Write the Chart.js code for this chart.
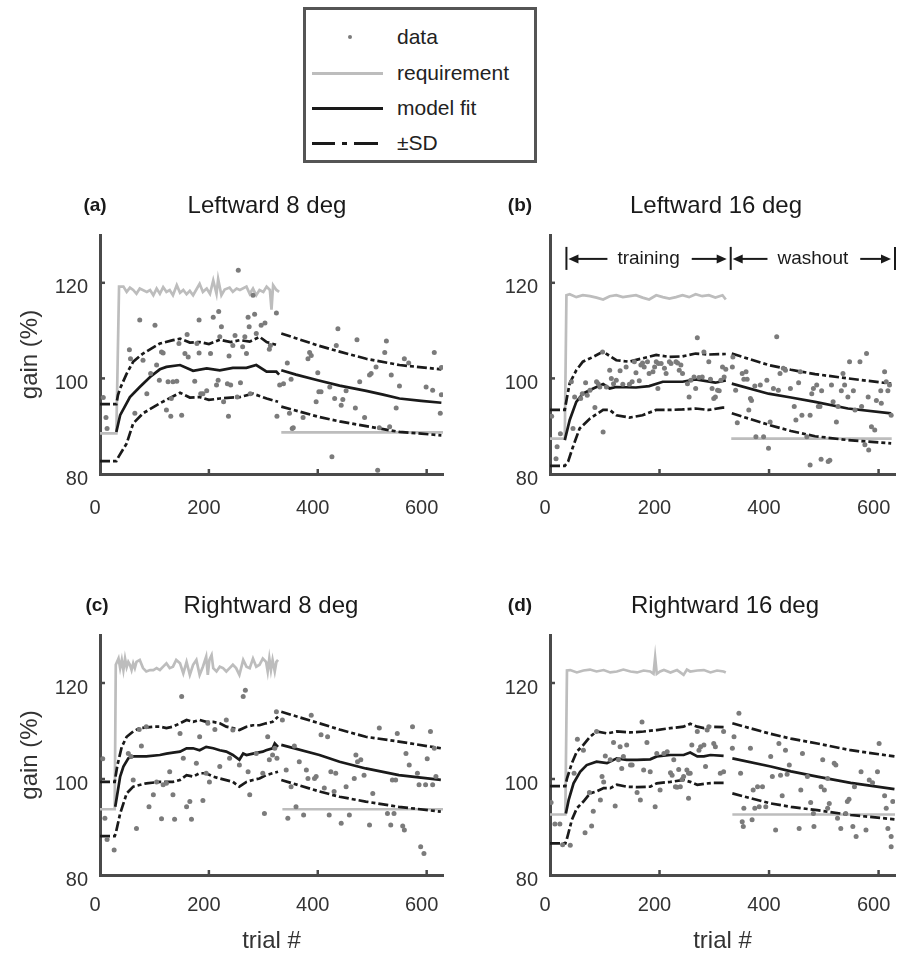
<!DOCTYPE html>
<html>
<head>
<meta charset="utf-8">
<script src="https://cdn.jsdelivr.net/npm/chart.js@4.4.1/dist/chart.umd.min.js"></script>
<style>
  body { margin: 0; background: #fff; font-family: "Liberation Sans", Arial, sans-serif; }
  #fig { position: relative; width: 909px; height: 953px; overflow: hidden; }
  canvas { position: absolute; }
  #legend { position: absolute; left: 303px; top: 7px; width: 234px; height: 156px;
            border: 3px solid #555; box-sizing: border-box; }
  #legend .txt { position: absolute; left: 91px; height: 24px; line-height: 24px;
                 font-size: 21px; color: #222; white-space: nowrap; }
  #legend .ln { position: absolute; height: 3px; }
</style>
</head>
<body>
<div id="fig">
  <div id="legend">
    <div style="position:absolute;left:42px;top:25px;width:4px;height:4px;border-radius:2px;background:#7b7b7b"></div>
    <div class="txt" style="top:15px">data</div>
    <div class="ln" style="left:6px;width:71px;top:62px;background:#bdbdbd"></div>
    <div class="txt" style="top:51px">requirement</div>
    <div class="ln" style="left:6px;width:71px;top:97px;background:#1a1a1a"></div>
    <div class="txt" style="top:86px">model fit</div>
    <div class="ln" style="left:6px;width:23px;top:132px;background:#1a1a1a"></div>
    <div class="ln" style="left:36px;width:5px;top:132px;background:#1a1a1a"></div>
    <div class="ln" style="left:48px;width:24px;top:132px;background:#1a1a1a"></div>
    <div class="txt" style="top:121px">&plusmn;SD</div>
  </div>
  <canvas id="pa" width="450" height="340" style="left:0;top:180px"></canvas>
  <canvas id="pb" width="459" height="340" style="left:450px;top:180px"></canvas>
  <canvas id="pc" width="450" height="373" style="left:0;top:580px"></canvas>
  <canvas id="pd" width="459" height="373" style="left:450px;top:580px"></canvas>
</div>
<script>
// axes
const trialTicks = [0, 200, 400, 600];
const gainTicks = [80, 100, 120];
const trialMax = 630;
const gainMin = 80, gainMax = 130;

const titles = ['Leftward 8 deg', 'Leftward 16 deg', 'Rightward 8 deg', 'Rightward 16 deg'];
const letters = ['(a)', '(b)', '(c)', '(d)'];
const phaseEdges = [30, 330, 630];
const phaseNames = ['training', 'washout'];
const phaseGain = 125;

// ---- (a) leftward 8 deg: [trial, gain %] ----
const dataA = [[6,96.0],[11,91.8],[13,89.5],[54,106.0],[56,104.1],[64,92.7],[73,112.2],[79,103.8],[86,96.8],[93,101.0],
  [101,111.1],[104,102.8],[109,99.6],[113,105.5],[116,105.3],[122,93.4],[125,99.3],[130,92.1],[131,95.8],[134,99.3],
  [141,99.4],[145,107.3],[150,92.3],[156,105.2],[160,109.2],[162,104.5],[174,99.4],[178,107.3],[182,112.2],[182,105.3],
  [185,96.8],[189,96.8],[196,97.4],[203,105.2],[208,112.8],[214,98.6],[217,99.6],[218,114.0],[220,108.7],[223,110.8],
  [227,95.1],[234,98.9],[236,92.1],[237,104.7],[240,98.6],[244,106.9],[248,109.0],[252,96.1],[254,122.6],[258,99.1],
  [262,106.6],[266,108.7],[269,105.2],[272,112.8],[274,110.8],[276,96.8],[281,117.4],[284,113.4],[287,109.4],[296,111.1],
  [303,111.6],[311,106.1],[313,106.9],[324,113.7],[325,92.1],[330,98.6],
  [337,98.9],[344,103.2],[348,92.7],[351,99.8],[353,89.5],[355,89.7],[373,91.8],[382,104.1],[385,105.4],[388,104.8],
  [397,95.1],[400,101.2],[402,97.2],[406,97.2],[422,98.2],[426,83.6],[431,95.8],[434,106.9],[437,110.4],[443,94.4],
  [446,95.6],[452,97.4],[469,93.8],[472,108.1],[477,99.3],[486,91.8],[495,100.7],[498,101.0],[507,102.4],[510,80.8],
  [513,89.7],[523,105.4],[526,107.8],[532,89.9],[535,100.7],[544,93.8],[550,98.4],[559,104.1],[567,103.2],[599,98.2],
  [611,97.5],[614,105.4],[625,92.7],[627,96.6],[627,102.3]];
const reqA = [[0,88.5],[30,88.5],[35,119.2],[43,119.2],[49,118.1],[55,119.0],[61,118.5],[67,117.7],[73,118.8],[86,118.1],
  [92,118.5],[98,117.4],[104,118.8],[110,117.7],[116,119.1],[122,118.1],[128,118.5],[134,117.4],[141,119.5],[147,117.9],
  [153,118.5],[159,117.6],[165,118.3],[171,117.4],[177,118.6],[183,119.8],[189,118.1],[196,118.8],[202,117.7],[208,120.5],
  [214,117.7],[217,120.8],[223,117.4],[229,118.6],[238,119.0],[244,118.1],[251,118.8],[257,118.5],[269,119.2],[275,117.7],
  [281,118.8],[287,117.4],[293,118.5],[300,118.1],[306,119.2],[312,118.5],[315,114.4],[318,119.5],[324,118.5],[329,118.1],
  [331,null],[333,88.7],[630,88.7]];
const fitA = [[30,88.8],[37,92.3],[55,96.1],[73,98.2],[92,100.3],[110,101.9],[122,102.4],[147,102.8],[171,101.6],[196,102.1],
  [220,101.7],[244,102.2],[269,102.2],[287,102.8],[306,101.4],[324,101.4],[329,100.8],
  [331,null],[333,101.7],[360,100.8],[400,99.6],[440,98.5],[489,97.4],[520,96.6],[550,95.8],[590,95.3],[627,94.9]];
const upA = [[0,94.6],[30,94.6],[33,96.5],[37,97.9],[49,101.0],[61,103.5],[79,105.2],[110,107.3],[134,108.0],[147,108.3],
  [165,107.5],[183,107.6],[200,107.2],[220,108.1],[240,107.6],[257,108.0],[275,107.7],[293,108.7],[306,107.6],[327,106.9],
  [331,null],[333,109.4],[400,106.9],[440,105.6],[489,104.1],[550,102.8],[627,101.9]];
const loA = [[0,82.7],[30,82.7],[34,83.6],[49,86.4],[61,90.6],[79,92.7],[110,94.8],[147,97.0],[165,96.0],[183,96.1],
  [200,95.5],[220,95.8],[257,96.1],[281,96.8],[306,95.8],[327,95.1],
  [331,null],[333,94.1],[400,92.0],[440,91.0],[489,90.0],[550,88.8],[627,88.1]];

// ---- (b) leftward 16 deg ----
const dataB = [[3,92.1],[11,83.2],[13,85.7],[19,88.4],
  [39,99.3],[42,89.5],[45,96.1],[56,95.8],[59,96.8],[65,99.1],[68,96.5],[73,97.5],[82,93.9],[85,99.3],[88,98.9],[91,98.2],
  [96,105.5],[97,88.8],[103,98.2],[109,101.7],[112,100.0],[116,98.9],[121,99.6],[128,101.6],[133,98.8],[139,102.4],
  [145,98.8],[150,99.3],[154,103.5],[157,101.2],[163,99.5],[166,102.8],[169,103.2],[172,102.4],[178,103.5],[181,101.0],
  [188,101.4],[191,102.4],[194,103.5],[197,97.9],[198,103.1],[203,103.1],[209,102.1],[212,101.0],[218,103.5],[221,103.1],
  [230,103.5],[233,103.2],[236,101.7],[239,102.8],[242,101.0],[251,98.9],[254,96.1],[257,99.6],[263,100.3],[266,97.9],
  [269,108.5],[272,100.2],[278,100.3],[281,105.5],[290,103.5],[293,99.8],[296,97.9],[299,95.8],[302,96.1],[306,97.5],
  [309,97.4],[312,99.6],[315,102.4],[318,100.3],[321,101.9],
  [333,102.4],[334,104.5],[339,97.5],[342,90.7],[351,101.0],[354,99.8],[358,101.4],[360,99.8],[363,93.4],[366,95.8],
  [368,95.4],[374,98.4],[376,87.8],[384,98.6],[390,87.8],[396,99.6],[399,85.4],[402,90.9],[408,97.9],[414,108.7],
  [417,97.5],[420,101.0],[426,102.1],[430,101.7],[439,97.9],[446,94.1],[449,91.3],[454,99.1],[457,101.4],[460,92.3],
  [469,87.8],[475,81.9],[475,92.3],[478,96.8],[481,97.9],[487,98.6],[490,94.1],[493,94.1],[495,83.1],[496,97.4],
  [508,82.6],[511,82.9],[514,98.6],[517,95.1],[523,90.9],[526,94.1],[532,97.4],[535,101.0],[538,98.6],[544,96.1],
  [547,103.5],[554,97.4],[557,93.4],[566,103.5],[569,94.1],[575,86.1],[578,105.2],[581,96.1],[582,85.0],[587,89.9],
  [593,89.2],[596,95.4],[604,97.4],[605,94.8],[611,101.4],[614,99.3],[617,97.4],[620,98.6],[623,92.3]];
const reqB = [[0,87.4],[27,87.4],[30,117.4],[36,117.6],[48,117.0],[60,117.4],[73,117.2],[85,116.9],[97,116.5],[109,117.2],
  [121,117.4],[133,117.0],[145,117.2],[157,117.4],[169,116.9],[181,116.5],[194,117.4],[206,117.0],[218,116.7],[230,117.0],
  [242,117.4],[254,117.0],[266,117.6],[278,117.2],[290,117.4],[302,116.9],[315,117.4],[321,116.5],
  [326,null],[331,87.4],[624,87.4]];
const fitB = [[27,87.1],[36,91.3],[48,95.1],[60,96.8],[79,97.9],[97,98.8],[109,97.9],[121,98.2],[157,98.1],[181,98.4],
  [206,99.3],[242,99.3],[266,99.8],[302,99.1],[321,99.6],
  [326,null],[332,98.9],[399,96.8],[440,96.0],[484,95.1],[544,93.7],[623,92.7]];
const upB = [[0,93.4],[27,93.4],[31,96.0],[36,99.0],[48,101.7],[60,103.5],[79,104.5],[97,105.6],[121,103.8],[145,103.5],
  [169,104.2],[194,104.9],[218,104.5],[242,104.6],[266,105.2],[290,105.0],[321,105.1],
  [326,null],[332,105.2],[399,102.8],[440,101.8],[484,100.9],[544,100.0],[623,98.9]];
const loB = [[0,81.7],[27,81.7],[33,82.6],[42,85.7],[54,89.5],[73,91.6],[97,93.4],[109,93.4],[121,92.3],[145,91.8],
  [169,92.3],[194,93.4],[218,93.4],[242,93.5],[266,93.7],[290,93.4],[315,93.9],[321,93.9],
  [326,null],[332,92.7],[399,90.3],[440,89.0],[484,87.9],[544,87.1],[623,86.4]];

// ---- (c) rightward 8 deg ----
const dataC = [[5,104.2],[9,91.8],[13,87.4],[26,85.2],
  [52,105.3],[57,104.7],[61,99.8],[67,89.7],[72,110.3],[76,106.9],[85,110.9],[90,94.2],[98,96.7],[104,99.4],
  [113,91.7],[116,98.8],[122,99.1],[128,101.5],[134,96.7],[137,91.6],[147,109.5],[150,117.2],[153,104.3],[159,94.2],
  [165,95.3],[168,91.6],[177,103.3],[183,108.8],[189,95.5],[195,101.2],[198,111.6],[201,99.4],[211,110.3],[220,102.6],
  [232,112.3],[238,104.3],[244,110.2],[256,102.9],[263,117.2],[267,118.5],[272,101.5],[275,96.7],[287,105.3],[299,101.2],
  [302,92.8],[308,108.8],[311,104.0],[317,105.0],[321,106.4],[324,114.0],[325,104.3],
  [335,112.3],[342,101.9],[345,91.8],[351,98.4],[357,106.9],[360,94.2],[366,103.6],[374,92.5],[379,101.9],[382,100.1],
  [388,113.3],[394,100.1],[397,100.5],[406,109.2],[412,98.1],[418,108.8],[421,92.5],[424,101.5],[430,97.4],[433,101.2],
  [443,90.8],[452,98.4],[458,92.5],[467,100.1],[470,105.0],[473,103.6],[479,104.0],[485,100.8],[495,90.4],[501,97.0],
  [513,110.6],[528,92.8],[534,90.4],[537,99.8],[540,92.8],[543,99.8],[546,109.5],[556,90.2],[559,89.4],[562,105.3],
  [568,102.9],[574,110.9],[583,101.2],[586,98.8],[589,85.9],[595,84.5],[598,98.8],[601,104.2],[607,109.9],[611,98.8],
  [614,106.4],[617,100.5]];
const reqC = [[0,93.7],[27,93.7],[29,123.8],[34,125.1],[37,123.1],[40,124.8],[43,122.7],[46,125.1],[49,123.3],[52,124.4],
  [55,123.8],[58,122.7],[61,124.1],[64,123.1],[67,124.4],[73,124.8],[79,123.1],[85,122.4],[92,122.7],[98,122.7],
  [104,123.1],[110,122.7],[116,123.4],[122,124.1],[128,123.1],[134,123.4],[140,124.8],[147,124.1],[153,122.0],[159,124.4],
  [165,121.7],[171,123.8],[177,124.8],[183,121.7],[189,123.4],[195,125.5],[198,121.7],[201,124.8],[205,125.8],[208,123.1],
  [214,122.4],[220,123.4],[226,123.1],[232,122.4],[238,123.1],[244,123.8],[250,123.1],[256,121.7],[263,124.8],[269,123.4],
  [275,123.1],[281,125.1],[287,123.4],[293,123.8],[299,125.1],[305,124.4],[308,122.4],[311,125.1],[314,122.7],[317,124.8],
  [321,122.4],[324,124.4],[327,124.8],
  [331,null],[335,93.7],[630,93.7]];
const fitC = [[28,94.2],[34,98.4],[37,100.5],[43,102.6],[52,104.3],[61,104.7],[85,104.7],[110,105.0],[122,105.3],[134,105.5],
  [147,105.7],[159,106.4],[171,106.4],[183,106.0],[195,106.7],[208,106.4],[220,106.0],[232,105.7],[244,105.0],[256,104.0],
  [263,105.3],[269,105.0],[281,105.3],[299,105.7],[305,106.0],[317,106.4],[321,107.4],[327,106.7],
  [330,null],[333,107.1],[403,105.0],[440,103.6],[488,102.2],[549,100.8],[626,99.8]];
const upC = [[0,99.4],[27,99.4],[32,102.9],[40,106.7],[49,108.8],[61,109.9],[73,110.6],[98,110.9],[110,110.9],[122,110.6],
  [134,110.9],[147,111.6],[159,112.3],[171,111.9],[183,112.3],[195,111.9],[208,111.9],[220,111.6],[232,110.9],[244,110.6],
  [256,110.2],[269,110.9],[281,111.2],[293,111.2],[305,111.6],[317,111.9],[327,113.0],
  [330,null],[333,114.0],[403,111.6],[440,110.3],[488,108.8],[549,107.8],[626,106.4]];
const loC = [[0,88.1],[27,88.1],[29,88.7],[37,92.8],[49,97.0],[61,98.4],[85,99.1],[110,99.4],[134,99.4],[147,99.8],
  [159,100.8],[171,100.5],[183,101.2],[195,101.2],[208,100.5],[220,100.1],[244,99.4],[256,98.4],[269,99.4],[281,99.8],
  [293,100.1],[305,100.8],[317,101.2],[327,101.5],
  [330,null],[333,99.8],[403,97.4],[440,96.3],[488,95.3],[549,94.2],[626,93.2]];

// ---- (d) rightward 16 deg ----
const dataD = [[2,95.1],[9,90.6],[18,90.6],[23,86.3],[37,86.2],
  [44,101.2],[50,108.3],[61,106.0],[64,88.8],[72,97.2],[76,90.2],[79,93.3],[85,109.9],[92,95.6],[95,100.5],[98,99.4],
  [101,104.8],[110,104.0],[116,107.6],[119,94.4],[125,104.0],[128,106.7],[131,102.2],[134,104.7],[140,107.1],[147,102.9],
  [150,102.9],[159,97.2],[165,95.6],[168,111.9],[171,101.9],[177,107.6],[183,101.5],[192,94.2],[195,105.3],[201,97.7],
  [208,105.3],[214,105.7],[220,101.3],[223,100.8],[226,104.0],[229,98.4],[232,98.3],[235,102.0],[238,98.4],[241,99.9],
  [244,100.5],[250,101.9],[253,101.2],[253,96.0],[256,101.2],[259,107.1],[269,109.9],[272,106.0],[275,106.7],[281,107.1],
  [284,102.6],[287,110.2],[290,110.9],[299,107.4],[302,106.7],[311,101.2],[317,101.5],[317,109.9],
  [333,106.4],[336,108.8],[345,113.7],[348,101.2],[351,91.1],[353,90.1],[354,93.9],[366,106.4],[369,91.5],[371,97.7],
  [374,93.9],[379,98.4],[382,94.2],[388,98.4],[394,94.2],[403,104.7],[406,100.5],[412,89.4],[418,107.4],[421,100.8],
  [424,96.5],[430,106.0],[433,101.0],[437,102.9],[455,89.7],[458,97.7],[461,105.3],[470,100.5],[476,95.1],[481,92.8],
  [482,90.1],[495,98.4],[498,104.0],[501,97.7],[507,100.1],[507,93.9],[510,94.9],[519,103.3],[522,102.9],[525,91.8],
  [531,89.7],[540,92.8],[543,95.3],[546,95.8],[553,90.1],[556,98.4],[559,88.0],[568,101.5],[577,89.4],[583,99.8],
  [589,99.2],[598,101.5],[601,107.4],[611,96.5],[614,93.9],[617,89.7],[623,88.0],[623,85.9],[626,95.3]];
const reqD = [[0,92.6],[28,92.6],[31,122.6],[37,122.7],[49,122.2],[61,122.6],[73,122.8],[85,122.4],[98,122.7],[110,122.2],
  [122,122.4],[134,122.8],[147,122.4],[159,122.2],[171,122.6],[183,122.4],[189,121.9],[192,125.3],[195,121.9],[201,122.4],
  [208,122.7],[220,122.2],[232,122.7],[244,121.7],[250,122.8],[256,122.4],[269,122.6],[281,122.7],[293,122.2],[305,122.6],
  [317,122.4],[321,122.2],
  [327,null],[333,92.6],[632,92.6]];
const fitD = [[29,92.8],[34,95.6],[43,99.1],[55,101.5],[67,102.9],[85,103.6],[104,103.3],[122,104.3],[140,104.0],[159,104.0],
  [183,104.1],[195,104.7],[220,105.0],[244,105.0],[256,105.5],[269,104.7],[281,104.7],[293,105.0],[317,104.8],
  [327,null],[333,104.3],[403,102.6],[440,101.6],[488,100.5],[549,99.2],[629,97.9]];
const upD = [[0,98.5],[28,98.5],[31,100.1],[40,103.3],[49,105.7],[61,107.1],[73,108.8],[85,109.9],[104,109.5],[122,109.9],
  [147,109.7],[171,109.9],[195,110.2],[220,110.6],[244,110.9],[256,111.5],[269,110.9],[281,110.6],[293,110.9],[317,110.8],
  [327,null],[333,111.6],[403,109.4],[440,108.4],[488,107.4],[549,106.0],[629,104.7]];
const loD = [[0,86.6],[28,86.6],[31,87.6],[40,91.5],[49,93.9],[61,95.3],[73,97.0],[85,97.4],[98,98.1],[110,98.1],
  [122,98.8],[140,98.4],[159,98.3],[183,98.4],[195,99.1],[220,99.4],[244,99.8],[256,99.4],[269,98.8],[281,99.0],
  [299,99.2],[317,99.2],
  [327,null],[333,97.0],[403,94.9],[440,94.2],[488,93.5],[549,92.5],[629,91.6]];

const DOT = '#7b7b7b', REQ = '#bdbdbd', INK = '#1a1a1a', AXIS = '#4a4a4a', TXT = '#333';
const FONT = '"Liberation Sans", Arial, sans-serif';
const SD_DASH = [10, 3, 4, 3];

const xy = arr => arr.map(([x, y]) => ({x: x, y: y}));

function lineSet(arr, color, dash) {
    return {
        data: xy(arr),
        showLine: true,
        borderColor: color,
        borderWidth: 2.7,
        borderDash: dash || [],
        pointRadius: 0,
        pointHoverRadius: 0,
        tension: 0,
    };
}

// panel letter + title above the plot
const panelText = {
    id: 'panelText',
    afterDraw(chart, args, opts) {
        const ctx = chart.ctx;
        ctx.save();
        ctx.fillStyle = '#1a1a1a';
        ctx.textAlign = 'center';
        ctx.textBaseline = 'alphabetic';
        ctx.font = 'bold 19px ' + FONT;
        ctx.fillText(opts.letter, opts.letterX, 31);
        ctx.font = '24px ' + FONT;
        ctx.fillText(opts.title, opts.titleX, 33);
        ctx.restore();
    }
};

// small inward tick marks, like the original axes
const tickMarks = {
    id: 'tickMarks',
    afterDraw(chart) {
        const {ctx, chartArea: a, scales: {x, y}} = chart;
        ctx.save();
        ctx.strokeStyle = AXIS;
        ctx.lineWidth = 2.5;
        x.ticks.forEach(t => {
            if (t.value === 0) return;
            const px = x.getPixelForValue(t.value);
            ctx.beginPath(); ctx.moveTo(px, a.bottom); ctx.lineTo(px, a.bottom - 5); ctx.stroke();
        });
        y.ticks.forEach(t => {
            if (t.value === gainMin) return;
            const py = y.getPixelForValue(t.value);
            ctx.beginPath(); ctx.moveTo(a.left, py); ctx.lineTo(a.left + 5, py); ctx.stroke();
        });
        ctx.restore();
    }
};

function arrow(ctx, from, to, y) {
    const dir = Math.sign(to - from);
    ctx.beginPath(); ctx.moveTo(from, y); ctx.lineTo(to - dir * 8, y); ctx.stroke();
    ctx.beginPath();
    ctx.moveTo(to, y);
    ctx.lineTo(to - dir * 10, y - 4.5);
    ctx.lineTo(to - dir * 10, y + 4.5);
    ctx.closePath();
    ctx.fill();
}

// |<- training ->|<- washout ->| marks in panel (b)
const phaseMarks = {
    id: 'phaseMarks',
    afterDraw(chart, args, opts) {
        if (!opts.show) return;
        const {ctx, scales: {x, y}} = chart;
        const py = y.getPixelForValue(phaseGain);
        const xs = phaseEdges.map(v => x.getPixelForValue(v));
        ctx.save();
        ctx.strokeStyle = INK;
        ctx.fillStyle = INK;
        ctx.lineWidth = 2;
        xs.forEach(px => {
            ctx.beginPath(); ctx.moveTo(px, py - 12); ctx.lineTo(px, py + 11); ctx.stroke();
        });
        ctx.font = '19px ' + FONT;
        ctx.textAlign = 'center';
        ctx.textBaseline = 'middle';
        phaseNames.forEach((name, i) => {
            const a = xs[i], b = xs[i + 1], mid = (a + b) / 2;
            const half = ctx.measureText(name).width / 2;
            arrow(ctx, mid - half - 10, a + 2, py);
            arrow(ctx, mid + half + 12, b - 4, py);
            ctx.fillText(name, mid, py);
        });
        ctx.restore();
    }
};

const panels = [
    {id: 'pa', sets: [dataA, reqA, fitA, upA, loA], letterX: 95, titleX: 267, right: 443, bottom: 294, xPad: 22, yTitle: true,  xTitle: false, phases: false},
    {id: 'pb', sets: [dataB, reqB, fitB, upB, loB], letterX: 70, titleX: 266, right: 445, bottom: 294, xPad: 22, yTitle: false, xTitle: false, phases: true},
    {id: 'pc', sets: [dataC, reqC, fitC, upC, loC], letterX: 97, titleX: 271, right: 443, bottom: 295, xPad: 18, yTitle: true,  xTitle: true,  phases: false},
    {id: 'pd', sets: [dataD, reqD, fitD, upD, loD], letterX: 70, titleX: 275, right: 445, bottom: 295, xPad: 18, yTitle: false, xTitle: true,  phases: false},
];

panels.forEach((p, i) => {
    const canvas = document.getElementById(p.id);
    const W = canvas.width, H = canvas.height;
    const [pts, req, fit, up, lo] = p.sets;
    new Chart(canvas.getContext('2d'), {
        type: 'scatter',
        data: {
            datasets: [
                {data: xy(pts), pointRadius: 2.5, pointBorderWidth: 0, pointBackgroundColor: DOT, pointHoverRadius: 2.5},
                lineSet(fit, INK),
                lineSet(up, INK, SD_DASH),
                lineSet(lo, INK, SD_DASH),
                lineSet(req, REQ),
            ],
        },
        options: {
            animation: false,
            responsive: false,
            devicePixelRatio: 1,
            events: [],
            layout: {padding: {left: 0, top: 55, right: W - p.right, bottom: 0}},
            plugins: {
                legend: {display: false},
                tooltip: {enabled: false},
                panelText: {letter: letters[i], title: titles[i], letterX: p.letterX, titleX: p.titleX},
                phaseMarks: {show: p.phases},
            },
            scales: {
                x: {
                    type: 'linear', min: 0, max: trialMax,
                    grid: {display: false, drawTicks: false},
                    border: {color: AXIS, width: 3},
                    ticks: {color: TXT, font: {family: FONT, size: 20}, padding: p.xPad, labelOffset: -5},
                    afterBuildTicks: s => { s.ticks = trialTicks.map(v => ({value: v})); },
                    afterFit: s => { s.height = H - p.bottom; s.paddingLeft = 0; s.paddingRight = 0; },
                    title: {display: p.xTitle, text: 'trial #', color: TXT,
                            font: {family: FONT, size: 24, lineHeight: 1}, padding: {top: 0, bottom: 0}},
                },
                y: {
                    type: 'linear', min: gainMin, max: gainMax,
                    grid: {display: false, drawTicks: false},
                    border: {color: AXIS, width: 3},
                    ticks: {color: TXT, font: {family: FONT, size: 20}, padding: 12, labelOffset: 5},
                    afterBuildTicks: s => { s.ticks = gainTicks.map(v => ({value: v})); },
                    afterFit: s => { s.width = 100; s.paddingTop = 0; s.paddingBottom = 0; },
                    title: {display: p.yTitle, text: 'gain (%)', color: TXT,
                            font: {family: FONT, size: 24}, padding: {top: 16, bottom: 0}},
                },
            },
        },
        plugins: [panelText, tickMarks, phaseMarks],
    });
});
</script>
</body>
</html>
